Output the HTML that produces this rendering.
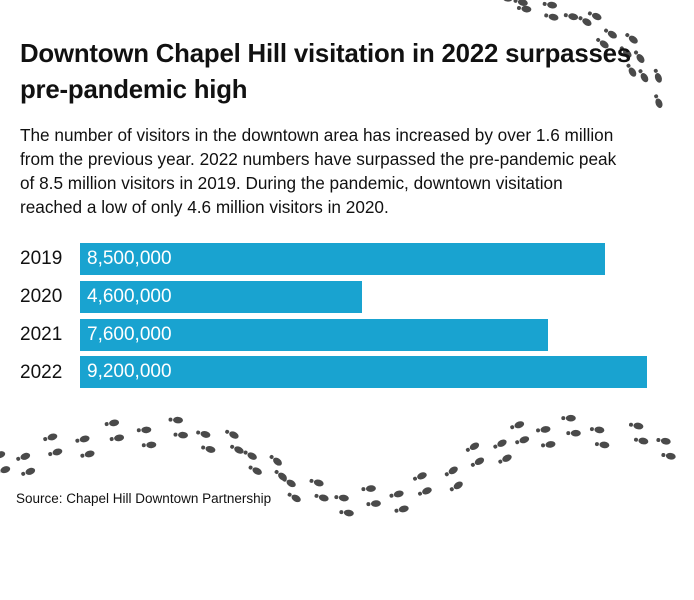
<!DOCTYPE html>
<html><head><meta charset="utf-8"><style>
body{margin:0;width:694px;height:600px;background:#fff;position:relative;overflow:hidden;font-family:"Liberation Sans",sans-serif;color:#111}
.t{position:absolute;left:20px;top:36px;font-size:25.8px;font-weight:bold;line-height:36px;letter-spacing:-0.2px}
.p{position:absolute;left:20px;top:123px;font-size:17.2px;line-height:24px;white-space:nowrap}
.y{position:absolute;left:20px;font-size:19px}
.b{position:absolute;left:80px;height:32px;background:#19a3d0;color:#fff;font-size:19px;line-height:32px;padding-left:7px;box-sizing:border-box}
.s{position:absolute;left:16px;top:491px;font-size:13.5px}
svg{position:absolute;left:0;top:0}
</style></head><body>
<svg id="f" width="694" height="600"></svg>
<div class="t">Downtown Chapel Hill visitation in 2022 surpasses<br>pre-pandemic high</div>
<div class="p">The number of visitors in the downtown area has increased by over 1.6 million<br>from the previous year. 2022 numbers have surpassed the pre-pandemic peak<br>of 8.5 million visitors in 2019. During the pandemic, downtown visitation<br>reached a low of only 4.6 million visitors in 2020.</div>
<div class="y" style="top:248px">2019</div><div class="b" style="top:243px;width:525px">8,500,000</div>
<div class="y" style="top:286px">2020</div><div class="b" style="top:281px;width:282px">4,600,000</div>
<div class="y" style="top:324px">2021</div><div class="b" style="top:319px;width:468px">7,600,000</div>
<div class="y" style="top:362px">2022</div><div class="b" style="top:356px;width:567px">9,200,000</div>
<div class="s">Source: Chapel Hill Downtown Partnership</div>
<script>
var s=document.getElementById('f'),h='';
function fp(x,y,a){h+='<g transform="translate('+x.toFixed(1)+','+y.toFixed(1)+') rotate('+a.toFixed(1)+')" fill="#4a4a4a"><ellipse cx="2" cy="0" rx="5" ry="3.3"/><ellipse cx="-5.5" cy="0" rx="2" ry="2"/></g>';}
function cr(P,t){var n=P.length-1,u=t*n,i=Math.min(Math.floor(u),n-1),f=u-i;
 var p0=P[Math.max(i-1,0)],p1=P[i],p2=P[i+1],p3=P[Math.min(i+2,n)];
 function c(k){return 0.5*((2*p1[k])+(-p0[k]+p2[k])*f+(2*p0[k]-5*p1[k]+4*p2[k]-p3[k])*f*f+(-p0[k]+3*p1[k]-3*p2[k]+p3[k])*f*f*f);}
 return [c(0),c(1)];}
function track(P,n,off,dy0){for(var i=0;i<n;i++){var t=i/(n-1)*0.999,p=cr(P,t),q=cr(P,t+0.001),dx=q[0]-p[0],dy=q[1]-p[1],L=Math.hypot(dx,dy),nx=-dy/L,ny=dx/L,o=(i%2?off:-off);fp(p[0]+nx*o,p[1]+ny*o+dy0,Math.atan2(dy,dx)*180/Math.PI);}}
var W=[[0,466],[60,446],[130,432],[200,434],[255,458],[300,488],[360,500],[420,488],[480,455],[530,433],[590,430],[665,442]];
track(W,26,5,-6);
track(W.map(function(p){return [p[0]+5,p[1]]}),26,5,9);
var T1=[[505,2],[545,8],[585,16],[620,35],[645,58],[662,100]];
var T2=[[520,6],[570,18],[605,40],[630,62],[640,78]];
track(T1,10,4,0);
track(T2,7,4,0);
s.innerHTML=h;
</script>
</body></html>
